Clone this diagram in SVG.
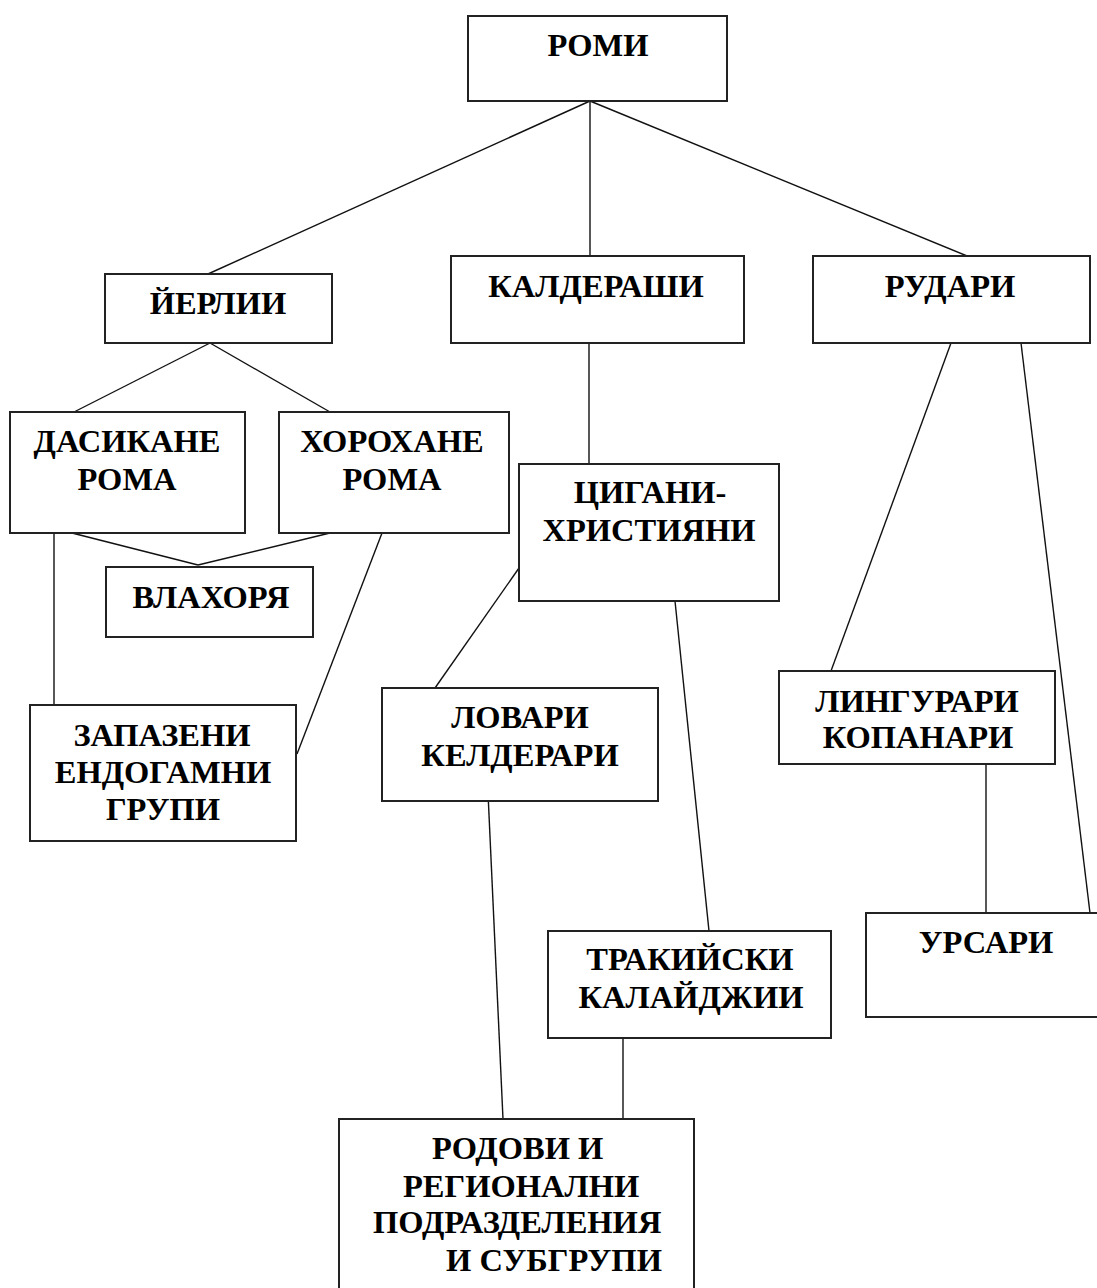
<svg xmlns="http://www.w3.org/2000/svg" width="1097" height="1288" viewBox="0 0 1097 1288">
<style>
.box{fill:#fff;stroke:#222;stroke-width:2}
.lbl{font-family:"Liberation Serif","Times New Roman",serif;font-weight:bold;font-size:32.5px;fill:#000;text-anchor:middle}
.lft{text-anchor:start}
#connectors line{stroke:#111;stroke-width:1.4}
</style>
<rect width="1097" height="1288" fill="#fff"/>
<g id="connectors">
<line x1="590" y1="101" x2="208" y2="274"/>
<line x1="590" y1="101" x2="590" y2="256"/>
<line x1="590" y1="101" x2="967" y2="256"/>
<line x1="210" y1="343" x2="74" y2="412"/>
<line x1="210" y1="343" x2="330" y2="412"/>
<line x1="589" y1="343" x2="589" y2="464"/>
<line x1="951" y1="343" x2="831" y2="671"/>
<line x1="1021" y1="343" x2="1090" y2="913"/>
<line x1="72" y1="533" x2="198" y2="565"/>
<line x1="330" y1="533" x2="198" y2="565"/>
<line x1="54" y1="533" x2="54" y2="705"/>
<line x1="382" y1="533" x2="297" y2="754"/>
<line x1="519" y1="568" x2="435" y2="688"/>
<line x1="675" y1="601" x2="709" y2="931"/>
<line x1="488" y1="793" x2="503" y2="1119"/>
<line x1="986" y1="757" x2="986" y2="913"/>
<line x1="623" y1="1034" x2="623" y2="1119"/>
</g>
<g id="n-romi"><rect class="box" x="468" y="16" width="259" height="85"/><text class="lbl" x="598" y="56">РОМИ</text></g>
<g id="n-yerlii"><rect class="box" x="105" y="274" width="227" height="69"/><text class="lbl" x="218" y="314">ЙЕРЛИИ</text></g>
<g id="n-kalderashi"><rect class="box" x="451" y="256" width="293" height="87"/><text class="lbl" x="596" y="297">КАЛДЕРАШИ</text></g>
<g id="n-rudari"><rect class="box" x="813" y="256" width="277" height="87"/><text class="lbl" x="950" y="297">РУДАРИ</text></g>
<g id="n-dasikane"><rect class="box" x="10" y="412" width="235" height="121"/><text class="lbl" x="127" y="452">ДАСИКАНЕ</text><text class="lbl" x="127" y="490">РОМА</text></g>
<g id="n-horohane"><rect class="box" x="279" y="412" width="230" height="121"/><text class="lbl" x="392" y="452">ХОРОХАНЕ</text><text class="lbl" x="392" y="490">РОМА</text></g>
<g id="n-vlahorya"><rect class="box" x="106" y="567" width="207" height="70"/><text class="lbl" x="211" y="608">ВЛАХОРЯ</text></g>
<g id="n-tsigani"><rect class="box" x="519" y="464" width="260" height="137"/><text class="lbl" x="650" y="503">ЦИГАНИ-</text><text class="lbl" x="649" y="541">ХРИСТИЯНИ</text></g>
<g id="n-zapazeni"><rect class="box" x="30" y="705" width="266" height="136"/><text class="lbl" x="162" y="746">ЗАПАЗЕНИ</text><text class="lbl" x="163" y="783">ЕНДОГАМНИ</text><text class="lbl" x="163" y="820">ГРУПИ</text></g>
<g id="n-lovari"><rect class="box" x="382" y="688" width="276" height="113"/><text class="lbl" x="520" y="728">ЛОВАРИ</text><text class="lbl" x="520" y="766">КЕЛДЕРАРИ</text></g>
<g id="n-lingurari"><rect class="box" x="779" y="671" width="276" height="93"/><text class="lbl" x="917" y="712">ЛИНГУРАРИ</text><text class="lbl" x="918" y="748">КОПАНАРИ</text></g>
<g id="n-trakiyski"><rect class="box" x="548" y="931" width="283" height="107"/><text class="lbl" x="690" y="970">ТРАКИЙСКИ</text><text class="lbl" x="691" y="1008">КАЛАЙДЖИИ</text></g>
<g id="n-ursari"><rect class="box" x="866" y="913" width="240" height="104"/><text class="lbl" x="986" y="953">УРСАРИ</text></g>
<g id="n-rodovi"><rect class="box" x="339" y="1119" width="355" height="180"/><text class="lbl lft" x="432" y="1159">РОДОВИ И</text><text class="lbl lft" x="403" y="1197">РЕГИОНАЛНИ</text><text class="lbl lft" x="373" y="1233">ПОДРАЗДЕЛЕНИЯ</text><text class="lbl lft" x="446" y="1271">И СУБГРУПИ</text></g>
</svg>
